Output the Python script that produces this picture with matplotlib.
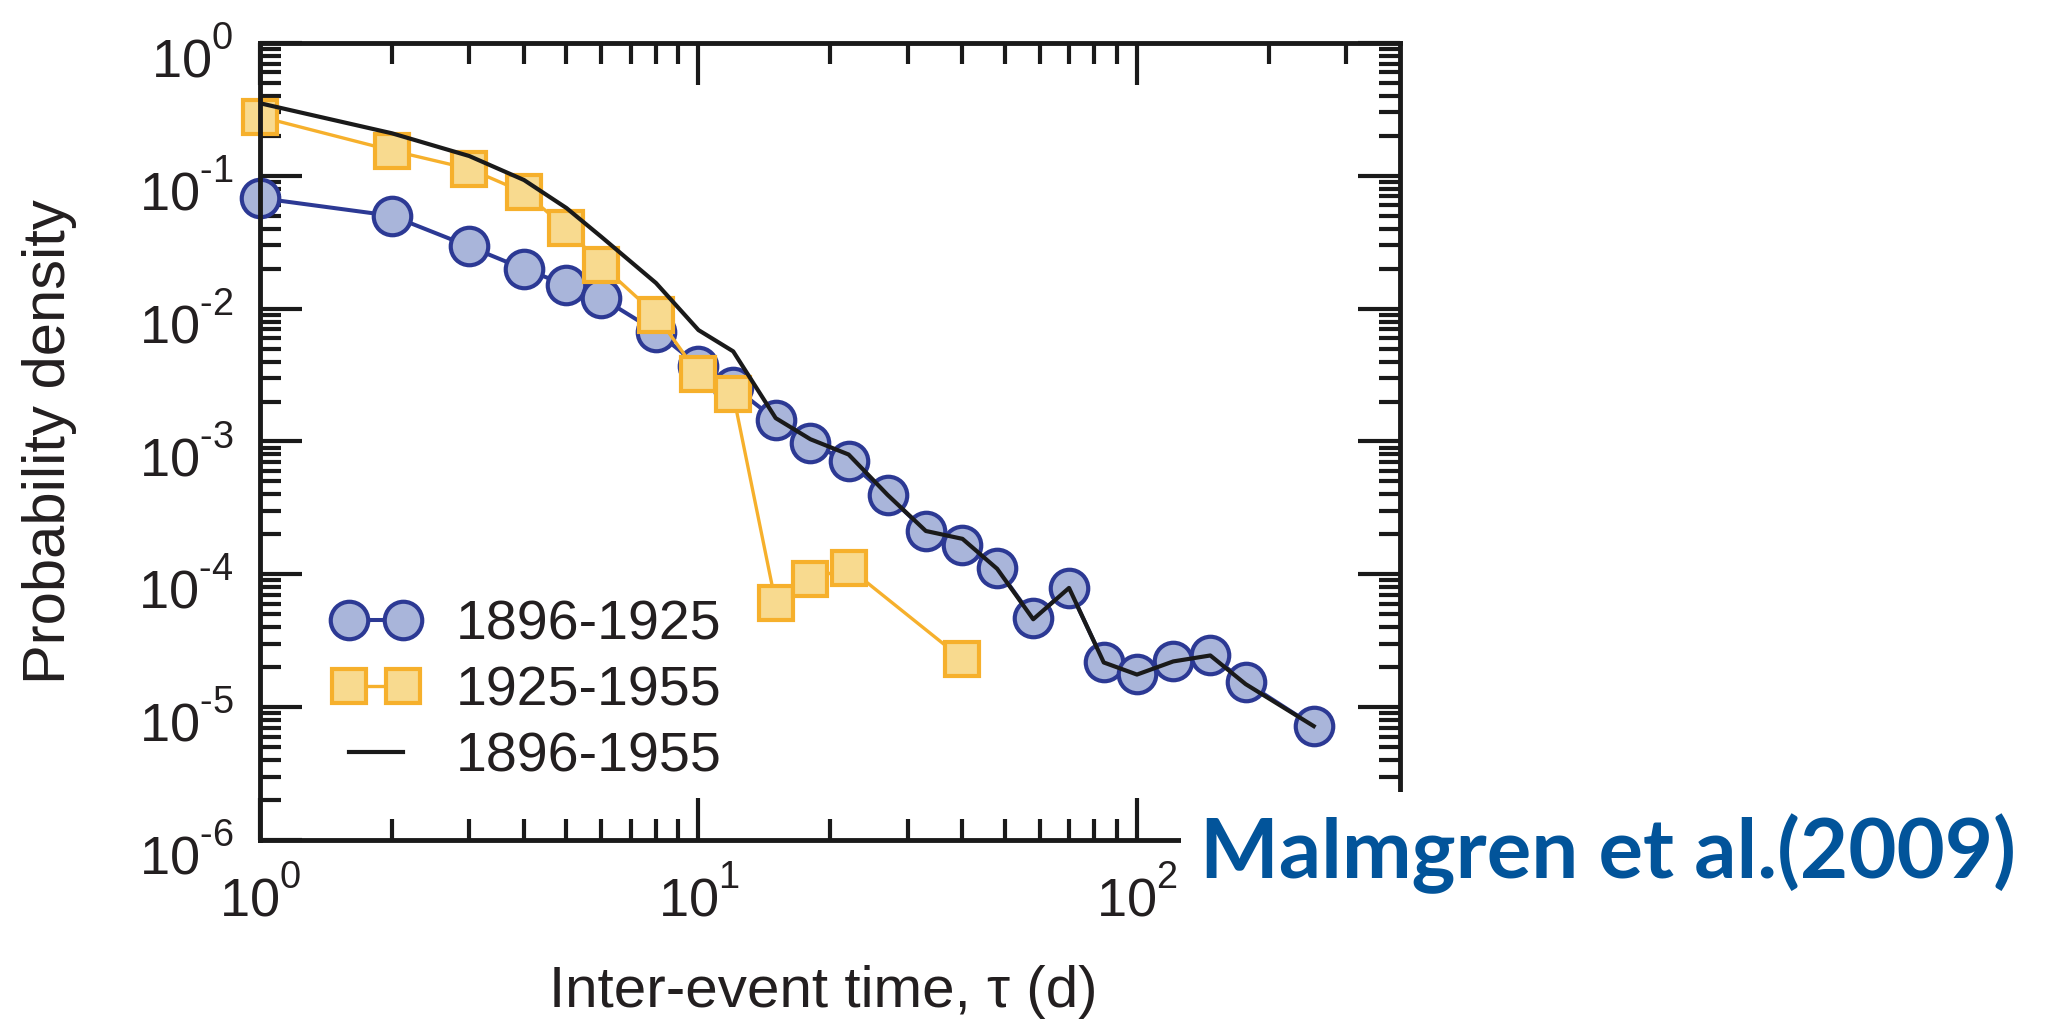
import matplotlib
matplotlib.use('Agg')
import matplotlib.pyplot as plt
import matplotlib.transforms as mtransforms
from matplotlib.ticker import LogLocator, NullFormatter, FuncFormatter
from matplotlib.patches import Rectangle
import numpy as np

plt.rcParams['font.family'] = ['Liberation Sans', 'DejaVu Sans']
plt.rcParams['mathtext.fontset'] = 'custom'
plt.rcParams['mathtext.rm'] = 'Liberation Sans'
plt.rcParams['mathtext.it'] = 'Liberation Sans:italic'
plt.rcParams['mathtext.bf'] = 'Liberation Sans:bold'

try:
    import matplotlib._mathtext as _mt
    _mt.FontConstantsBase.sup1 = 1.0
except Exception:
    pass

# ---- data ----
tau_1896_1925 = [1, 2, 3, 4, 5, 6, 8, 10, 12, 15, 18, 22, 27, 33, 40, 48, 58, 70,
                 84, 100, 121, 147, 177, 253]
pd_1896_1925 = [0.068, 0.050, 0.0294, 0.0199, 0.0151, 0.0121, 0.00673, 0.00373,
                0.00259, 0.00146, 0.000966, 0.000708, 0.000393, 0.000211,
                0.000165, 0.000111, 4.67e-5, 7.85e-5, 2.18e-5, 1.77e-5, 2.22e-5,
                2.46e-5, 1.54e-5, 7.2e-6]

tau_1925_1955 = [1, 2, 3, 4, 5, 6, 8, 10, 12, 15, 18, 22, 40]
pd_1925_1955 = [0.279, 0.155, 0.113, 0.075, 0.0404, 0.0214, 0.0090, 0.00321,
                0.00226, 6.08e-5, 9.2e-5, 1.12e-4, 2.3e-5]

tau_1896_1955 = [1, 2, 3, 4, 5, 6, 8, 10, 12, 15, 18, 22, 27, 33, 40, 48, 58, 70,
                 84, 100, 121, 147, 177, 253]
pd_1896_1955 = [0.352, 0.209, 0.141, 0.093, 0.0572, 0.0348, 0.0156, 0.00690,
                0.00477, 0.00150, 0.00104, 0.000798, 0.000396, 0.000212,
                0.000185, 0.000110, 4.59e-5, 7.9e-5, 2.17e-5, 1.76e-5, 2.21e-5,
                2.45e-5, 1.49e-5, 7.2e-6]

labels = ['1896-1925', '1925-1955', '1896-1955']


def pow10_label(v, pos):
    k = int(round(np.log10(v)))
    if k < 0:
        return r'$\mathdefault{10^{\text{-}%d}}$' % (-k)
    return r'$\mathdefault{10^{%d}}$' % k


W, H = 2050, 1021
fig = plt.figure(figsize=(W / 100, H / 100), dpi=100)
fig.patch.set_facecolor('white')
ax = fig.add_axes([260 / W, 1 - 840 / H, (1400 - 260) / W, (840 - 43) / H])

ax.plot(tau_1896_1925, pd_1896_1925, '-o', color='#2c3994', lw=2.9,
        marker='o', ms=27, mfc='#a9b5da', mec='#2c3994', mew=3.0,
        clip_on=False, label=labels[0], zorder=2)
ax.plot(tau_1925_1955, pd_1925_1955, '-s', color='#f6b02c', lw=2.4,
        marker='s', ms=24, mfc='#f8da8f', mec='#f6b02c', mew=3.0,
        clip_on=False, label=labels[1], zorder=2.1)
ax.plot(tau_1896_1955, pd_1896_1955, '-', color='#1a1a1a', lw=3.0,
        label=labels[2], zorder=2.2)

ax.set_xscale('log')
ax.set_yscale('log')
ax.set_xlim(1, 398)
ax.set_ylim(1e-6, 1)

for sp in ax.spines.values():
    sp.set_linewidth(3.5)
    sp.set_color('#1a1a1a')

ax.xaxis.set_major_locator(LogLocator(base=10, numticks=20))
ax.yaxis.set_major_locator(LogLocator(base=10, numticks=20))
ax.xaxis.set_minor_locator(LogLocator(base=10, subs=range(2, 10), numticks=50))
ax.yaxis.set_minor_locator(LogLocator(base=10, subs=range(2, 10), numticks=50))
ax.xaxis.set_minor_formatter(NullFormatter())
ax.yaxis.set_minor_formatter(NullFormatter())
ax.xaxis.set_major_formatter(FuncFormatter(pow10_label))
ax.yaxis.set_major_formatter(FuncFormatter(pow10_label))

ax.tick_params(which='both', direction='in', top=True, right=True,
               color='#1a1a1a', width=3.0)
ax.tick_params(which='major', length=30, labelsize=39, labelcolor='#231f20')
ax.tick_params(which='minor', length=15)
ax.tick_params(axis='x', which='major', pad=20)
ax.tick_params(axis='y', which='major', pad=19)

# shift y tick labels slightly downward like the reference
offset = mtransforms.ScaledTranslation(0, -10 / 100, fig.dpi_scale_trans)
for lab in ax.get_yticklabels():
    lab.set_transform(lab.get_transform() + offset)

# axis labels
fig.text(65 / W, 1 - 442 / H, 'Probability density', rotation=90,
         rotation_mode='anchor', ha='center', va='baseline', fontsize=43,
         color='#231f20')
fig.text(823 / W, 1 - 1007 / H, 'Inter-event time, \u03c4 (d)', ha='center',
         va='baseline', fontsize=42, color='#231f20')

leg = ax.legend(loc='upper left', bbox_to_anchor=(332 / W, 1 - 599 / H),
                bbox_transform=fig.transFigure, frameon=False, borderpad=0,
                borderaxespad=0, handlelength=1.57, handletextpad=0.65,
                labelspacing=0.26, numpoints=2, fontsize=40)
for t in leg.get_texts():
    t.set_color('#231f20')

# white box with citation
fig.add_artist(Rectangle((1181 / W, 0), 1 - 1181 / W, 1 - 792 / H,
                         transform=fig.transFigure, facecolor='white',
                         edgecolor='none', zorder=10))
fig.text(1200 / W, 1 - 878 / H, 'Malmgren et al.(2009)', fontfamily='Lato',
         fontweight='bold', fontsize=60, color='#02549a', ha='left',
         va='baseline', zorder=11)

fig.savefig('out.png', dpi=100, facecolor='white')
